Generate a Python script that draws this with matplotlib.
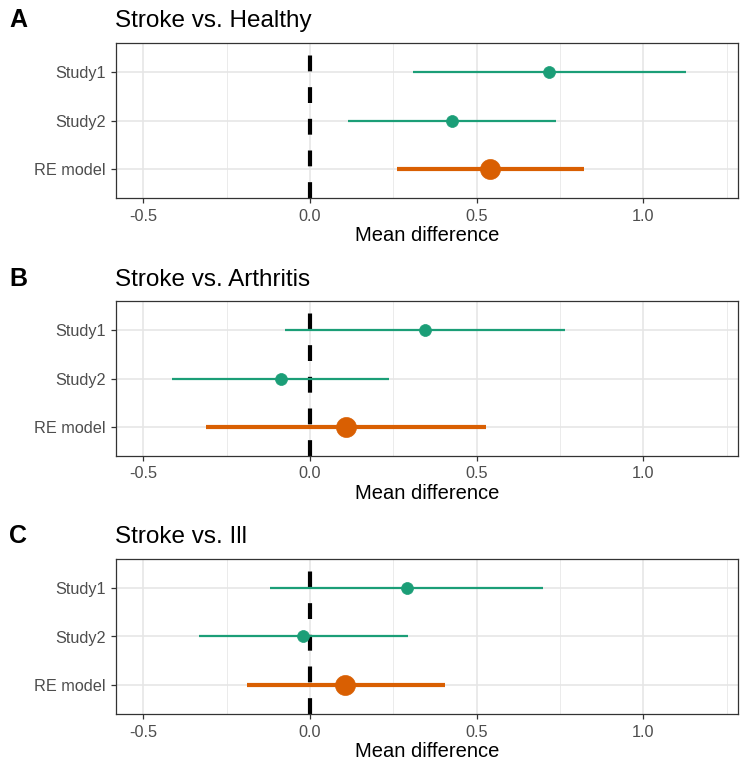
import matplotlib
matplotlib.use("Agg")
import matplotlib.pyplot as plt
from matplotlib.ticker import MultipleLocator

plt.rcParams['font.family'] = ['Liberation Sans', 'DejaVu Sans']
plt.rcParams['axes.unicode_minus'] = False

panel_labels = ["A", "B", "C"]
titles = ["Stroke vs. Healthy", "Stroke vs. Arthritis", "Stroke vs. Ill"]
studies = ["Study1", "Study2", "RE model"]

est_healthy = [0.717, 0.425, 0.541]
lo_healthy = [0.310, 0.113, 0.261]
hi_healthy = [1.127, 0.738, 0.821]

est_arthritis = [0.345, -0.087, 0.107]
lo_arthritis = [-0.075, -0.413, -0.313]
hi_arthritis = [0.764, 0.238, 0.528]

est_ill = [0.290, -0.020, 0.105]
lo_ill = [-0.119, -0.332, -0.190]
hi_ill = [0.700, 0.293, 0.404]

est_lst = [est_healthy, est_arthritis, est_ill]
lo_lst = [lo_healthy, lo_arthritis, lo_ill]
hi_lst = [hi_healthy, hi_arthritis, hi_ill]

teal = "#1B9E77"
orange = "#D95F02"

W, H = 750, 775
# axes boxes in pixels: (top, bottom)
boxes = [(42.7, 198.3), (301.0, 456.0), (558.7, 714.3)]
left_px, right_px = 116, 737.7


def plot_forest(fig, i):
    top, bot = boxes[i]
    ax = fig.add_axes([left_px / W, 1 - bot / H, (right_px - left_px) / W, (bot - top) / H])
    ypos = [3, 2, 1]
    ax.set_xlim(-0.582, 1.283)
    ax.set_ylim(0.4, 3.6)
    ax.xaxis.set_major_locator(MultipleLocator(0.5))
    ax.xaxis.set_minor_locator(MultipleLocator(0.25))
    ax.set_yticks(ypos)
    ax.set_yticklabels(studies)
    ax.grid(True, which='major', color='#E6E6E6', lw=1.2, zorder=0)
    ax.grid(True, which='minor', axis='x', color='#EBEBEB', lw=0.7, zorder=0)
    ax.set_axisbelow(True)
    for s in ax.spines.values():
        s.set_color('#333333')
        s.set_linewidth(0.9)
    ax.tick_params(axis='both', which='major', length=3.5, width=0.9, color='#333333',
                   labelsize=11.7, labelcolor='#4D4D4D', pad=4)
    ax.tick_params(axis='x', which='minor', length=0)

    # vertical dashed null line
    ax.plot([0, 0], [0.4, 3.6], color='black', lw=3, dashes=(3.8, 3.8), zorder=2)

    est = est_lst[i]
    lo = lo_lst[i]
    hi = hi_lst[i]
    for k in range(3):
        if k < 2:
            c, lw, ms = teal, 1.6, 8.6
        else:
            c, lw, ms = orange, 3.0, 14.4
        ax.plot([lo[k], hi[k]], [ypos[k], ypos[k]], color=c, lw=lw, solid_capstyle='butt', zorder=3)
        ax.plot(est[k], ypos[k], 'o', color=c, ms=ms, mec=c, mew=0.5, zorder=4)

    ax.set_xlabel("Mean difference", fontsize=14.5, color='black', labelpad=2)
    fig.text(115 / W, 1 - (top - 15.5) / H, titles[i], fontsize=17.5, ha='left', va='baseline')
    fig.text(9 / W, 1 - (top - 15.5) / H, panel_labels[i], fontsize=18, fontweight='bold',
             ha='left', va='baseline')
    return ax


def main():
    fig = plt.figure(figsize=(W / 100, H / 100), dpi=100)
    for i in range(3):
        plot_forest(fig, i)
    fig.savefig("out.png", dpi=100)
    plt.close(fig)


if __name__ == "__main__":
    main()
